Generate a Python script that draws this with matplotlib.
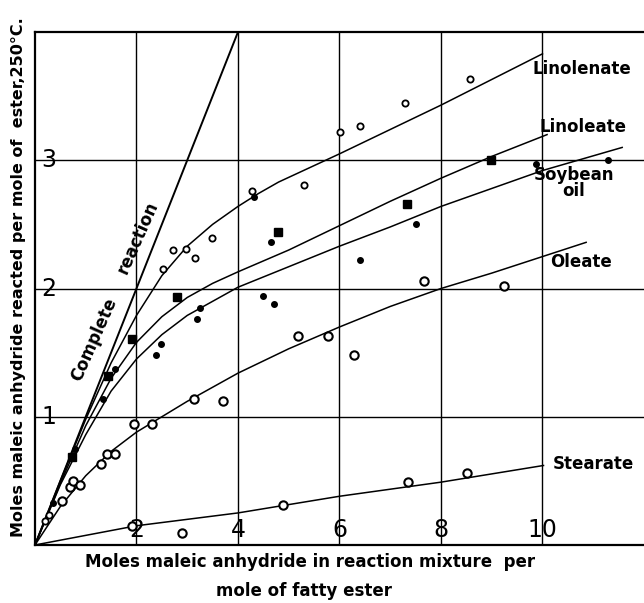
import numpy as np
import matplotlib.pyplot as plt

# Fitted curves
complete_x = [0, 4]
complete_y = [0, 4]

linolenate_cx = [0, 0.5, 1.0, 1.5, 2.0, 2.5, 3.0, 3.5, 4.0, 4.4, 4.8, 5.4, 6.0, 7.0, 8.0, 9.0, 10.0]
linolenate_cy = [0, 0.5, 0.98, 1.42, 1.79, 2.1, 2.33, 2.5, 2.64, 2.74, 2.83, 2.94, 3.05, 3.24, 3.43, 3.63, 3.83]

linoleate_cx = [0, 0.5, 1.0, 1.5, 2.0, 2.5, 3.0, 3.5, 4.0, 5.0, 6.0, 7.0, 8.0, 9.0, 10.09]
linoleate_cy = [0, 0.48, 0.93, 1.3, 1.58, 1.78, 1.93, 2.04, 2.13, 2.3, 2.49, 2.68, 2.86, 3.03, 3.2]

soybean_cx = [0, 0.5, 1.0, 1.5, 2.0, 2.5, 3.0, 4.0, 5.0, 6.0, 7.0, 8.0, 9.0, 10.0, 11.57]
soybean_cy = [0, 0.47, 0.86, 1.2, 1.45, 1.64, 1.79, 2.01, 2.17, 2.33, 2.48, 2.64, 2.78, 2.92, 3.10]

oleate_cx = [0, 0.5, 1.0, 1.5, 2.0, 2.5, 3.0, 4.0, 5.0, 6.0, 7.0, 8.0, 9.0, 10.86]
oleate_cy = [0, 0.30, 0.54, 0.73, 0.88, 1.0, 1.12, 1.34, 1.53, 1.70, 1.86, 2.0, 2.12, 2.36]

stearate_cx = [0, 2, 4, 6, 8, 10.02]
stearate_cy = [0, 0.15, 0.25, 0.38, 0.49, 0.62]

# Experimental points
linolenate_x = [0.20, 0.28, 2.53, 2.71, 2.97, 3.15, 3.49, 4.27, 5.30, 6.01, 6.40, 7.30, 8.58]
linolenate_y = [0.19, 0.23, 2.15, 2.30, 2.31, 2.24, 2.39, 2.76, 2.81, 3.22, 3.27, 3.45, 3.63]

linoleate_x = [0.72, 1.44, 1.92, 2.79, 4.79, 7.33, 8.98]
linoleate_y = [0.69, 1.32, 1.61, 1.93, 2.44, 2.66, 3.0]

soybean_x = [0.36, 0.79, 1.35, 1.57, 2.38, 2.48, 3.20, 3.25, 4.32, 4.50, 4.65, 4.71, 6.41, 7.51, 9.87, 11.3]
soybean_y = [0.33, 0.75, 1.14, 1.37, 1.48, 1.57, 1.76, 1.85, 2.71, 1.94, 2.36, 1.88, 2.22, 2.50, 2.97, 3.0]

oleate_x = [0.54, 0.69, 0.75, 0.89, 1.31, 1.41, 1.57, 1.95, 2.30, 3.14, 3.71, 5.18, 5.77, 6.28, 7.66, 9.24]
oleate_y = [0.34, 0.45, 0.50, 0.47, 0.63, 0.71, 0.71, 0.94, 0.94, 1.14, 1.12, 1.63, 1.63, 1.48, 2.06, 2.02]

stearate_x = [1.92, 2.89, 4.88, 7.35, 8.52]
stearate_y = [0.15, 0.09, 0.31, 0.49, 0.56]

xticks = [2, 4, 6, 8, 10]
yticks = [1, 2, 3]

fig = plt.figure(figsize=(6.44, 6.03), dpi=100)
ax = fig.add_axes([0.0543, 0.0962, 0.9457, 0.8507])
ax.set_xlim(0, 12)
ax.set_ylim(0, 4)

# grid
for gx in xticks:
    ax.axvline(gx, color='black', lw=1.0, zorder=1)
for gy in yticks:
    ax.axhline(gy, color='black', lw=1.0, zorder=1)

# curves
ax.plot(complete_x, complete_y, color='black', lw=1.4)
for cx, cy in [(linolenate_cx, linolenate_cy), (linoleate_cx, linoleate_cy),
               (soybean_cx, soybean_cy), (oleate_cx, oleate_cy), (stearate_cx, stearate_cy)]:
    ax.plot(cx, cy, color='black', lw=1.1)

# points
ax.plot(linolenate_x, linolenate_y, 'o', ms=4.5, mfc='white', mec='black', mew=1.3)
ax.plot(linoleate_x, linoleate_y, 's', ms=5.5, color='black')
ax.plot(soybean_x, soybean_y, 'o', ms=4, color='black')
ax.plot(oleate_x, oleate_y, 'o', ms=6, mfc='white', mec='black', mew=1.5)
ax.plot(stearate_x, stearate_y, 'o', ms=6, mfc='white', mec='black', mew=1.5)

# tick numbers drawn inside the frame
for t in xticks:
    ax.text(t, 0.02, str(t), ha='center', va='bottom', fontsize=17, color='black')
for t in yticks:
    ax.text(0.27, t, str(t), ha='center', va='center', fontsize=17, color='black')
ax.set_xticks([])
ax.set_yticks([])

for side in ['left', 'top', 'bottom']:
    ax.spines[side].set_linewidth(1.6)
ax.spines['right'].set_visible(False)

tk = dict(fontsize=12, fontweight='bold', color='black')
ax.text(1.17, 1.6, 'Complete', rotation=66, ha='center', va='center', **tk)
ax.text(2.02, 2.4, 'reaction', rotation=66, ha='center', va='center', **tk)
ax.text(9.8, 3.71, 'Linolenate', ha='left', va='center', **tk)
ax.text(9.94, 3.26, 'Linoleate', ha='left', va='center', **tk)
ax.text(10.62, 2.82, 'Soybean\noil', ha='center', va='center', multialignment='center',
        linespacing=0.85, **tk)
ax.text(10.15, 2.21, 'Oleate', ha='left', va='center', **tk)
ax.text(10.2, 0.63, 'Stearate', ha='left', va='center', **tk)

fig.text(0.028, 0.54, 'Moles maleic anhydride reacted per mole of  ester,250°C.',
         rotation=90, ha='center', va='center', fontsize=11.5, fontweight='bold')
fig.text(0.481, 0.068, 'Moles maleic anhydride in reaction mixture  per',
         ha='center', va='center', fontsize=12, fontweight='bold')
fig.text(0.472, 0.020, 'mole of fatty ester',
         ha='center', va='center', fontsize=12, fontweight='bold')

fig.savefig('out.png', dpi=100)
